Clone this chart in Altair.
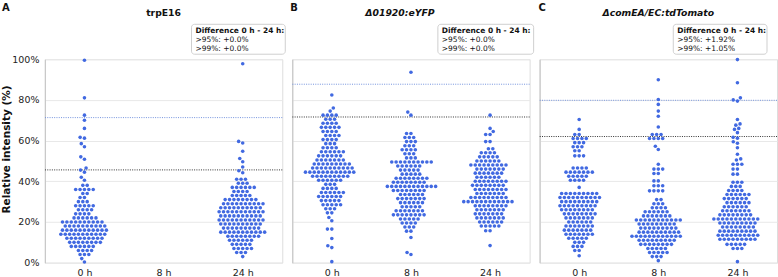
import altair as alt
import numpy as np
import pandas as pd

FONT = "DejaVu Sans"

CATEGORIES = ["0 h", "8 h", "24 h"]
PANEL_LETTERS = ["A", "B", "C"]
PANEL_TITLES = ["trpE16", "Δ01920:eYFP", "ΔcomEA/EC:tdTomato"]

# Each timepoint: (relative intensity in %, number of cells at that level)
TRPE16_0H = [
    (0.3, 1), (2, 1), (4, 3), (6, 4), (8, 6), (10, 8), (12, 9), (14, 11), (16, 11),
    (18, 10), (20, 10), (22, 6), (24, 4), (26, 4), (28, 5), (30, 3), (32, 2), (34, 2),
    (36, 5), (38, 2), (40.5, 1), (42, 1), (44.5, 1), (45.5, 1), (46.5, 1), (50.8, 1),
    (52, 1), (57, 1), (58.5, 1), (61.2, 1), (61.6, 1), (66, 1), (70, 1), (72.5, 1),
    (81, 1), (99.5, 1),
]
TRPE16_8H = []
TRPE16_24H = [
    (3, 1), (5, 3), (7, 5), (9, 5), (11, 6), (13, 8), (15, 11), (17, 9), (19, 10),
    (21, 11), (23, 10), (25, 11), (27, 10), (29, 10), (31, 8), (33, 5), (35, 4), (37, 6),
    (39, 3), (41, 3), (44.2, 1), (45.2, 1), (47, 1), (49.6, 1), (51.2, 1), (54.8, 1),
    (58.8, 1), (59.6, 1), (97.8, 1),
]

EYFP_0H = [
    (0.5, 1), (7.4, 1), (8.3, 1), (11.9, 1), (16.5, 2), (20.6, 1), (22.2, 1), (24.5, 2),
    (26.5, 3), (28.5, 5), (30.5, 5), (32.5, 6), (34.5, 6), (36.5, 4), (38.5, 3), (40.5, 6),
    (42.5, 9), (44.5, 12), (46.5, 10), (48.5, 9), (50.5, 7), (52.5, 6), (54.5, 6),
    (56.5, 4), (58.5, 3), (60.5, 4), (62.5, 4), (64.5, 4), (66.5, 5), (68.5, 4), (70.5, 3),
    (72.5, 4), (74.5, 1), (76, 1), (82.4, 1),
]
EYFP_8H = [
    (4, 1), (5, 1), (12.4, 1), (15.5, 2), (17.5, 3), (19.5, 4), (21.5, 5), (23.5, 8),
    (25.5, 7), (27.5, 5), (29.5, 6), (31.5, 7), (33.5, 6), (35.5, 8), (37.5, 12),
    (39.5, 8), (41.5, 8), (43.5, 5), (45.5, 5), (47.5, 6), (49.5, 10), (51.5, 3),
    (53.5, 3), (55.5, 4), (57.5, 3), (59.5, 3), (61.5, 3), (63.5, 2), (72.5, 1), (74, 1),
    (93.6, 1),
]
EYFP_24H = [
    (8.4, 1), (15.7, 2), (18, 5), (20, 6), (22, 7), (24, 7), (26, 7), (28, 8), (30, 12),
    (32, 9), (34, 7), (36, 8), (38, 8), (40, 8), (42, 6), (44, 7), (46, 7), (48, 9),
    (50, 6), (52, 5), (54, 4), (56, 2), (59.5, 2), (63, 2), (64.5, 1), (66, 1), (72.5, 1),
]

TDTOMATO_0H = [
    (3.4, 1), (6, 2), (8, 3), (10, 3), (12, 5), (14, 7), (16, 7), (18, 7), (20, 6),
    (22, 7), (24, 8), (26, 8), (28, 9), (30, 9), (32, 10), (34, 9), (37, 1), (40.5, 4),
    (42.5, 5), (44.5, 7), (46.5, 4), (52.5, 3), (55, 2), (57, 3), (59, 3), (61, 4),
    (63, 2), (65.5, 1), (70.4, 1),
]
TDTOMATO_8H = [
    (1, 1), (3, 3), (5, 5), (7, 5), (9, 8), (11, 9), (13, 12), (15, 10), (17, 9),
    (19, 9), (21, 11), (23, 7), (25, 6), (27, 4), (29, 3), (31, 2), (35.3, 4), (37.8, 3),
    (40.2, 2), (43.8, 2), (46, 3), (48.4, 1), (55.6, 1), (57.2, 1), (61, 4), (63, 3),
    (66.7, 1), (72, 1), (74.5, 1), (77.8, 1), (80.2, 1), (89.9, 1),
]
TDTOMATO_24H = [
    (0.5, 1), (7, 3), (9, 5), (11.5, 9), (13.5, 10), (15.5, 9), (17.5, 8), (19.5, 9),
    (21.5, 11), (23.5, 8), (25.5, 7), (27.5, 6), (29.5, 6), (31.5, 6), (33.5, 6),
    (35.5, 4), (37.5, 3), (39.5, 3), (43.5, 2), (46, 2), (48.4, 3), (50.5, 1), (51, 1),
    (53.3, 1), (56.5, 1), (58.7, 1), (59.4, 1), (61.2, 1), (61.6, 1), (63.9, 1),
    (65.5, 1), (66, 1), (67.6, 1), (68.2, 1), (70.4, 1), (79.4, 1), (80, 1), (81, 1),
    (88.4, 1), (99.8, 1),
]

GROUPS = [
    [TRPE16_0H, TRPE16_8H, TRPE16_24H],
    [EYFP_0H, EYFP_8H, EYFP_24H],
    [TDTOMATO_0H, TDTOMATO_8H, TDTOMATO_24H],
]

# Threshold lines (black: 95th percentile, blue: 99th percentile of 0 h)
P95 = [45.6, 71.6, 62.0]
P99 = [71.3, 87.7, 79.8]
DIFF_95 = ["+0.0%", "+0.0%", "+1.92%"]
DIFF_99 = ["+0.0%", "+0.0%", "+1.05%"]

PLOT_W, PLOT_H = 238, 204
PX_PER_CAT = PLOT_W / 3.0
PX_PER_PCT = PLOT_H / 100.0
DOT = 4.4  # spacing between marker centres used for swarm packing (px)
DOT_COLOR = "#4169e1"


def swarm_offsets(values):
    """Beeswarm layout: horizontal offset (in category units) for each value."""
    values = np.asarray(values, dtype=float)
    order = np.argsort(values, kind="stable")
    placed = []
    offs = np.zeros(len(values))
    for i in order:
        y = values[i] * PX_PER_PCT
        near = [(px, py) for px, py in placed if abs(py - y) < DOT]
        cands = [0.0]
        for px, py in near:
            dx = np.sqrt(DOT ** 2 - (py - y) ** 2)
            cands += [px + dx, px - dx]
        cands.sort(key=lambda c: (round(abs(c), 6), c))
        chosen = cands[-1]
        for c in cands:
            if all((c - px) ** 2 + (y - py) ** 2 >= DOT ** 2 - 1e-6 for px, py in near):
                chosen = c
                break
        placed.append((chosen, y))
        offs[i] = chosen
    return offs / PX_PER_CAT


rows = []
for p, groups in enumerate(GROUPS):
    for g, levels in enumerate(groups):
        vals = [lvl for lvl, n in levels for _ in range(n)]
        if not vals:
            continue
        offs = swarm_offsets(vals)
        for v, o in zip(vals, offs):
            rows.append({"panel": p, "cat": g, "value": v, "xpos": g + o})
points_df = pd.DataFrame(rows)

x_scale = alt.Scale(domain=[-0.5, 2.5], nice=False, zero=False)
y_scale = alt.Scale(domain=[0, 100], nice=False, zero=True)

# Panel-specific placement of the annotation box and title
BOX_X = [(147, 241), (146, 242), (134, 228)]
TITLE_X = [119, 108, 119]
TITLE_ITALIC = ["normal", "italic", "italic"]
LETTER_X = [-43, -2, -1]
TEXT_SIZE = 7.5


def make_panel(p):
    first = p == 0
    x_axis = alt.Axis(
        values=[0, 1, 2],
        labelExpr="['0 h', '8 h', '24 h'][datum.value]",
        grid=False, domain=False, ticks=False, title=None,
        labelFontSize=9.5, labelPadding=5, labelColor="#222222", labelFont=FONT,
    )
    y_axis = alt.Axis(
        values=[0, 20, 40, 60, 80, 100],
        labelExpr="datum.value + '%'",
        grid=True, gridColor="#e8e8e8", gridWidth=1,
        domain=True, domainColor="#c8c8c8", domainWidth=1.2,
        ticks=False, labels=first,
        labelFontSize=9.5, labelPadding=6, labelColor="#222222", labelFont=FONT,
        title="Relative intensity (%)" if first else None,
        titleFont=FONT, titleFontSize=10.5, titleFontWeight="bold", titleColor="#111111",
        titleX=-38, titleY=90, titleAngle=-90, titleAlign="center",
        titleBaseline="middle",
    )
    pts = alt.Chart(points_df[points_df.panel == p]).mark_circle(
        size=13, opacity=1, color=DOT_COLOR, stroke=None
    ).encode(
        x=alt.X("xpos:Q", scale=x_scale, axis=x_axis),
        y=alt.Y("value:Q", scale=y_scale, axis=y_axis),
    )
    line99 = alt.Chart(pd.DataFrame({"v": [P99[p]]})).mark_rule(
        color="#7393dd", strokeDash=[1, 1.3], strokeWidth=1
    ).encode(y=alt.Y("v:Q", scale=y_scale))
    line95 = alt.Chart(pd.DataFrame({"v": [P95[p]]})).mark_rule(
        color="#333333", strokeDash=[1, 1.3], strokeWidth=1
    ).encode(y=alt.Y("v:Q", scale=y_scale))

    one = pd.DataFrame({"k": [0]})
    letter = alt.Chart(pd.DataFrame({"t": [PANEL_LETTERS[p]]})).mark_text(
        align="left", baseline="top", font=FONT, fontSize=10, fontWeight="bold", color="#111111"
    ).encode(x=alt.value(LETTER_X[p]), y=alt.value(-56), text="t:N")
    title = alt.Chart(pd.DataFrame({"t": [PANEL_TITLES[p]]})).mark_text(
        align="center", baseline="middle", font=FONT, fontSize=9.3, fontWeight="bold",
        fontStyle=TITLE_ITALIC[p], color="#111111"
    ).encode(x=alt.value(TITLE_X[p]), y=alt.value(-46.5), text="t:N")
    bx0, bx1 = BOX_X[p]
    box = alt.Chart(one).mark_rect(
        fill="white", stroke="#cfcfcf", strokeWidth=1, cornerRadius=3
    ).encode(x=alt.value(bx0), x2=alt.value(bx1), y=alt.value(-35), y2=alt.value(-5))
    head = alt.Chart(pd.DataFrame({"t": ["Difference 0 h - 24 h:"]})).mark_text(
        align="left", baseline="middle", font=FONT, fontSize=TEXT_SIZE, fontWeight="bold",
        color="#111111"
    ).encode(x=alt.value(bx0 + 4), y=alt.value(-28.7), text="t:N")
    l95 = alt.Chart(pd.DataFrame({"t": [">95%: " + DIFF_95[p]]})).mark_text(
        align="left", baseline="middle", font=FONT, fontSize=TEXT_SIZE, color="#111111"
    ).encode(x=alt.value(bx0 + 4), y=alt.value(-19.2), text="t:N")
    l99 = alt.Chart(pd.DataFrame({"t": [">99%: " + DIFF_99[p]]})).mark_text(
        align="left", baseline="middle", font=FONT, fontSize=TEXT_SIZE, color="#111111"
    ).encode(x=alt.value(bx0 + 4), y=alt.value(-9.8), text="t:N")

    return alt.layer(
        line99, line95, pts, box, head, l95, l99, title, letter
    ).properties(width=PLOT_W, height=PLOT_H)


chart = alt.hconcat(
    make_panel(0), make_panel(1), make_panel(2), spacing=10
).properties(
    bounds="flush",
    padding={"left": 1, "top": 2, "right": 0, "bottom": 0},
).configure_view(stroke=None).configure(font=FONT, background="white")

chart.save("out.html", embed_options={"renderer": "svg", "actions": False})
